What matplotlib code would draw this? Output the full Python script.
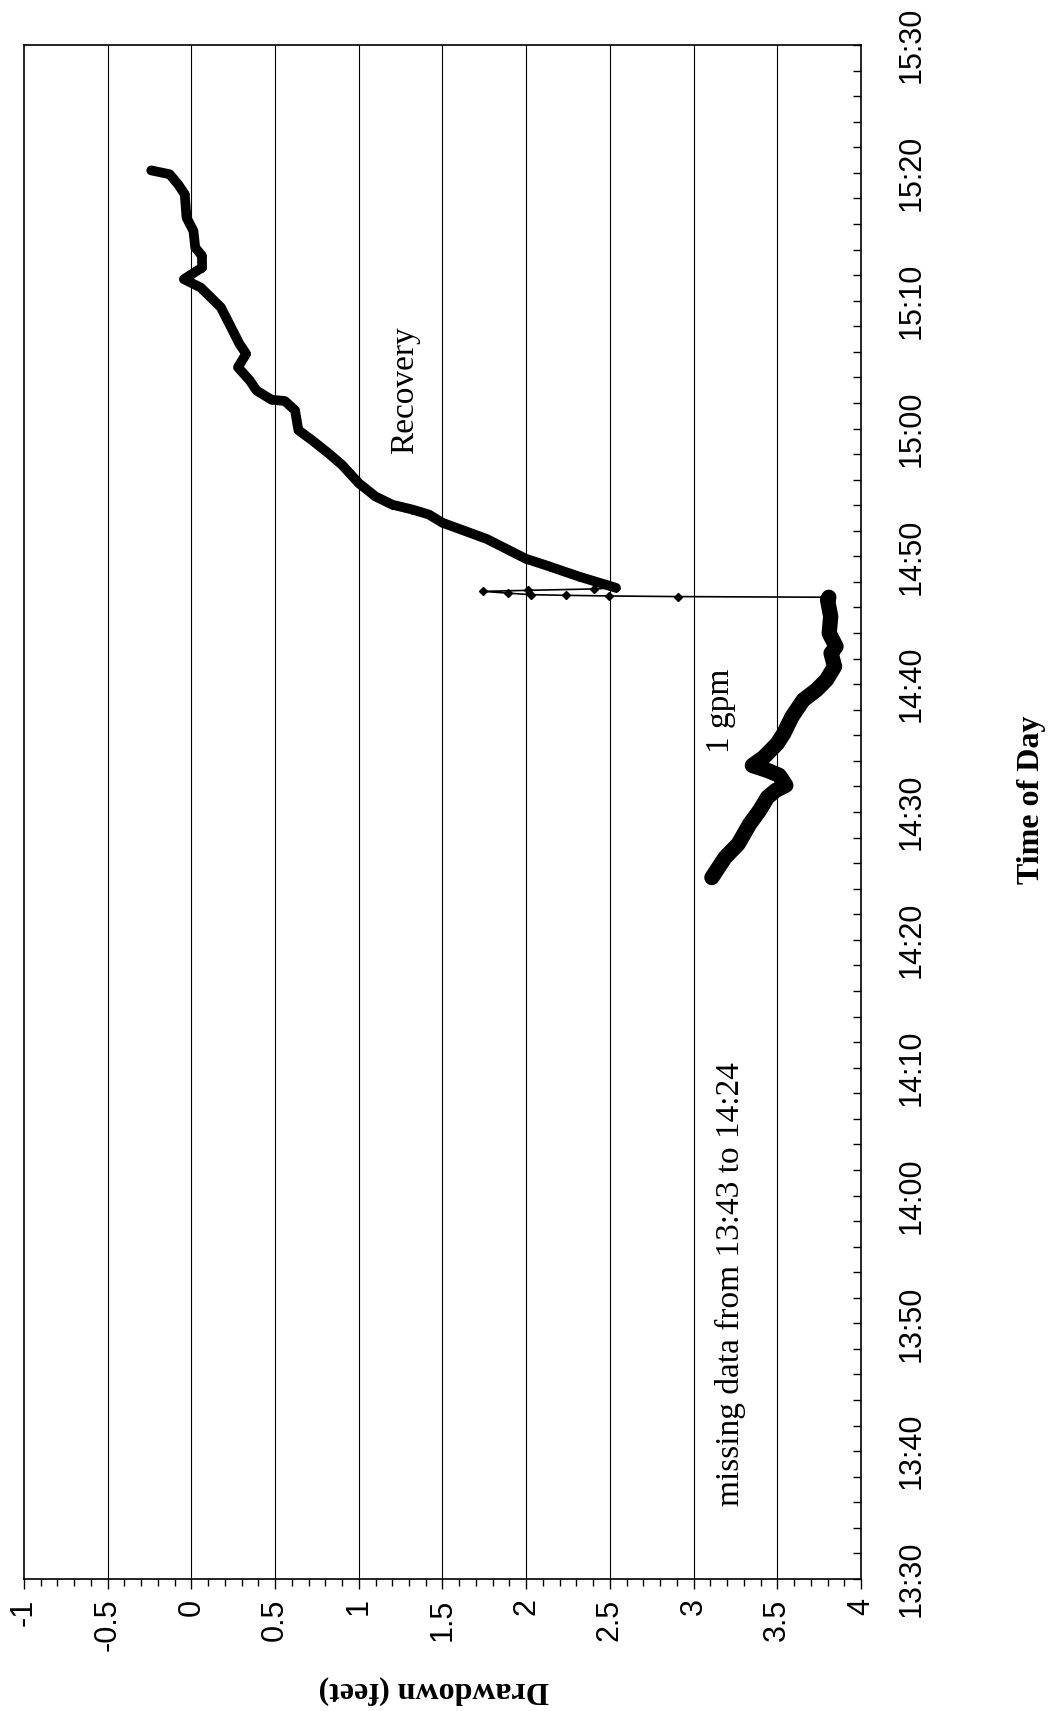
import matplotlib
matplotlib.use("Agg")
import matplotlib.pyplot as plt
from matplotlib.ticker import FixedLocator, MultipleLocator

# Elapsed time (minutes after 13:30) and drawdown (feet) for the pumping test
pump_min = [54.87, 56.44, 57.49, 59.06, 60.12, 61.16, 61.69, 62.09, 62.87, 63.25,
            63.64, 64.29, 65.34, 66.13, 67.44, 68.76, 69.55, 70.33, 71.38, 72.42,
            72.95, 73.98, 75.29, 76.60, 76.80]
pump_dd = [3.109, 3.188, 3.266, 3.335, 3.394, 3.442, 3.491, 3.551, 3.511, 3.441,
           3.351, 3.420, 3.499, 3.538, 3.587, 3.655, 3.734, 3.793, 3.842, 3.821,
           3.851, 3.810, 3.819, 3.800, 3.808]

# Readings logged right after the pump was shut off
shutoff_min = [76.85, 76.90, 76.95, 77.00, 77.12, 77.26, 77.34, 77.45]
shutoff_dd = [2.908, 2.493, 2.238, 2.030, 1.891, 1.742, 2.010, 2.407]

# Recovery readings
recov_min = [77.54, 78.41, 79.30, 79.81, 81.36, 82.63, 83.27, 83.66, 84.04, 84.68,
             85.72, 87.15, 88.06, 89.09, 89.87, 91.43, 92.15, 92.25, 92.97, 93.75,
             94.79, 95.84, 96.62, 97.91, 99.48, 100.25, 101.03, 101.68, 102.59, 103.51,
             104.16, 105.46, 106.50, 108.33, 109.11, 109.89, 110.19]
recov_dd = [2.536, 2.317, 2.118, 1.998, 1.764, 1.499, 1.419, 1.320, 1.200, 1.100,
            1.000, 0.900, 0.819, 0.720, 0.639, 0.619, 0.558, 0.479, 0.389, 0.349,
            0.278, 0.327, 0.287, 0.237, 0.176, 0.116, 0.055, -0.045, 0.064, 0.063,
            0.023, 0.012, -0.029, -0.040, -0.080, -0.130, -0.240]

drawdown_ticks = [-1, -0.5, 0, 0.5, 1, 1.5, 2, 2.5, 3, 3.5, 4]
drawdown_labels = ["-1", "-0.5", "0", "0.5", "1", "1.5", "2", "2.5", "3", "3.5", "4"]
time_ticks = [0, 10, 20, 30, 40, 50, 60, 70, 80, 90, 100, 110, 120]
time_labels = ["13:30", "13:40", "13:50", "14:00", "14:10", "14:20", "14:30",
               "14:40", "14:50", "15:00", "15:10", "15:20", "15:30"]

SERIF = ["Liberation Serif", "DejaVu Serif"]
NARROW = ["Liberation Sans Narrow", "Liberation Sans", "DejaVu Sans"]

W, H = 1053, 1711
fig = plt.figure(figsize=(W / 100, H / 100), dpi=100)
fig.patch.set_facecolor("white")

left, right, top, bottom = 24, 861, 45, 1579
ax = fig.add_axes([left / W, 1 - bottom / H, (right - left) / W, (bottom - top) / H])

# Full series joined in time order
all_min = pump_min + shutoff_min + recov_min
all_dd = pump_dd + shutoff_dd + recov_dd

# Thin connecting line with diamond markers for every reading
ax.plot(all_dd, all_min, color="black", lw=1.2, marker="D", ms=4.5,
        markerfacecolor="black", markeredgecolor="black", zorder=3)
# Dense logging during pumping and recovery reads as a heavy band
n_p = len(pump_min)
ax.plot(all_dd[:n_p], all_min[:n_p], color="black", lw=11,
        solid_capstyle="round", solid_joinstyle="round", zorder=4)
ax.plot(recov_dd, recov_min, color="black", lw=7,
        solid_capstyle="round", solid_joinstyle="round", zorder=4)

ax.set_xlim(-1, 4)
ax.set_ylim(0, 120)

# Drawdown axis along the bottom
ax.xaxis.set_major_locator(FixedLocator(drawdown_ticks))
ax.set_xticklabels(drawdown_labels, rotation=90, fontfamily=NARROW, fontsize=22)
ax.xaxis.set_minor_locator(MultipleLocator(0.1))
ax.tick_params(axis="x", which="major", direction="out", length=7, width=1, pad=7)
ax.tick_params(axis="x", which="minor", direction="out", length=5, width=1)

# Time axis along the right side
ax.yaxis.tick_right()
ax.yaxis.set_major_locator(FixedLocator(time_ticks))
ax.set_yticklabels(time_labels, rotation=90, fontfamily=NARROW, fontsize=22,
                   va="center")
ax.yaxis.set_minor_locator(MultipleLocator(2))
ax.tick_params(axis="y", which="both", direction="in", length=6, width=1, pad=26,
               left=False, right=True)

# Vertical gridlines at each half foot
for g in drawdown_ticks[1:-1]:
    ax.axvline(g, color="black", lw=0.8, zorder=1)

for s in ax.spines.values():
    s.set_linewidth(1.2)
    s.set_color("black")

# Annotations
ax.text(1.276, 93.0, "Recovery", rotation=90, ha="center", va="center",
        fontfamily=SERIF, fontsize=24)
ax.text(3.164, 67.9, "1 gpm", rotation=90, ha="center", va="center",
        fontfamily=SERIF, fontsize=24)
ax.text(3.223, 23.1, "missing data from 13:43 to 14:24", rotation=90,
        ha="center", va="center", fontfamily=SERIF, fontsize=24)

# Axis titles
fig.text(1031 / W, 1 - 800 / H, "Time of Day", rotation=90, ha="center", va="center",
         fontfamily=SERIF, fontsize=23, fontweight="bold")
fig.text(434 / W, 1 - 1690 / H, "Drawdown (feet)", rotation=180, ha="center",
         va="center", fontfamily=SERIF, fontsize=23, fontweight="bold")

fig.savefig("out.png", dpi=100)
